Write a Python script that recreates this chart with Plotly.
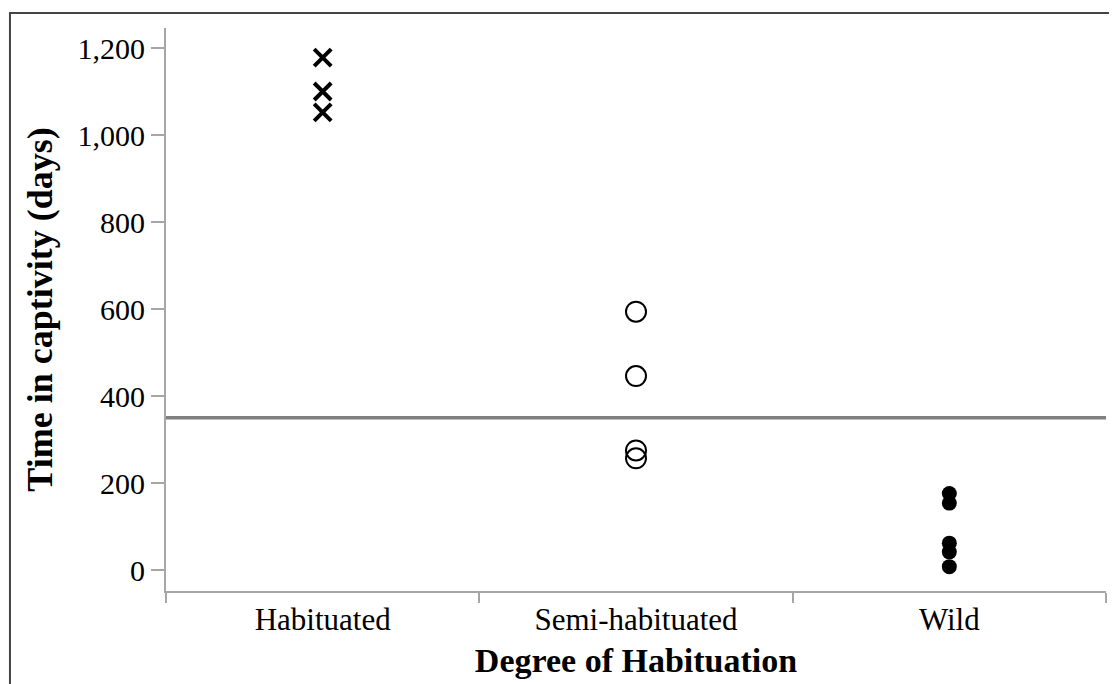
import plotly.graph_objects as go

categories = ["Habituated", "Semi-habituated", "Wild"]
habituated_days = [1178, 1100, 1052]
semi_days = [594, 446, 275, 257]
wild_days = [176, 154, 62, 42, 8]
reference_days = 350
y_ticks = [0, 200, 400, 600, 800, 1000, 1200]

FONT = "Liberation Serif"
AX = "#a6a6a6"

fig = go.Figure()
fig.add_trace(go.Scatter(
    x=[categories[0]] * len(habituated_days), y=habituated_days, mode="markers",
    marker=dict(symbol="x-thin-open", size=17, color="black", line=dict(color="black", width=4)),
    showlegend=False))
fig.add_trace(go.Scatter(
    x=[categories[1]] * len(semi_days), y=semi_days, mode="markers",
    marker=dict(symbol="circle-open", size=20, color="black", line=dict(color="black", width=2)),
    showlegend=False))
fig.add_trace(go.Scatter(
    x=[categories[2]] * len(wild_days), y=wild_days, mode="markers",
    marker=dict(symbol="circle", size=15, color="black", line=dict(width=0)),
    showlegend=False))

fig.add_shape(type="line", xref="paper", x0=0, x1=1, yref="y", y0=reference_days, y1=reference_days,
              line=dict(color="#808080", width=3.5), layer="below")
# outer frame
fig.add_shape(type="rect", xref="paper", yref="paper", x0=-0.166, x1=1.2, y0=-0.5, y1=1.0266,
              line=dict(color="#444444", width=2), fillcolor="rgba(0,0,0,0)")

fig.update_layout(
    width=1109, height=676,
    margin=dict(l=158, r=11, t=20, b=93),
    paper_bgcolor="white", plot_bgcolor="white",
    font=dict(family=FONT, color="black"),
    xaxis=dict(
        type="category", categoryorder="array", categoryarray=categories,
        range=[-0.5, 2.5], showline=True, linecolor=AX, linewidth=2,
        ticks="outside", tickson="boundaries", ticklen=10, tickcolor=AX, tickwidth=1.5,
        tickfont=dict(family=FONT, size=31, color="black"),
        showgrid=False, zeroline=False,
        title=dict(text="<b>Degree of Habituation</b>", font=dict(family=FONT, size=34, color="black"), standoff=12),
    ),
    yaxis=dict(
        range=[-48, 1246], tickvals=y_ticks, tickformat=",",
        showline=True, linecolor=AX, linewidth=2,
        ticks="outside", ticklen=13, tickcolor=AX, tickwidth=1.5,
        tickfont=dict(family=FONT, size=30, color="black"),
        showgrid=False, zeroline=False,
        title=dict(text="<b>Time in captivity (days)</b>", font=dict(family=FONT, size=36, color="black"), standoff=14),
    ),
)

fig.write_html("out.html")
